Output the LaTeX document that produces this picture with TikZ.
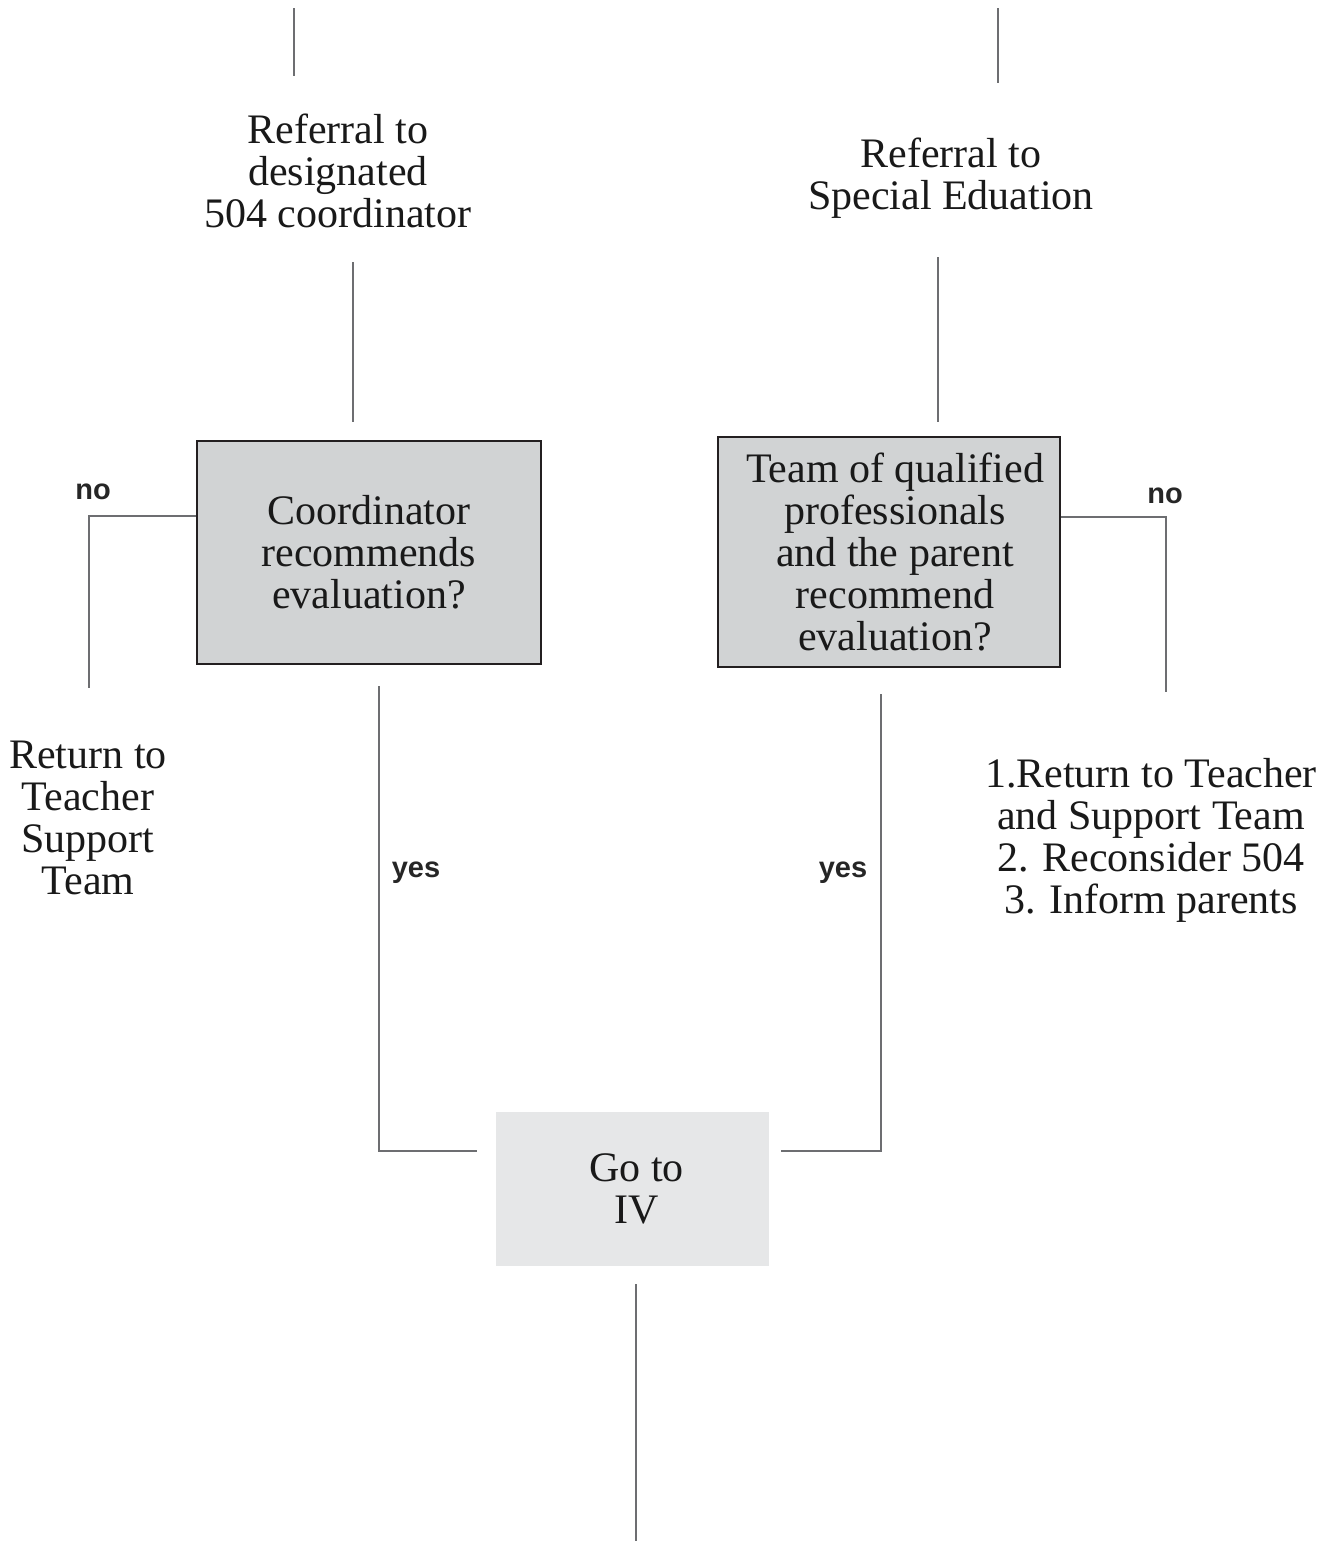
\documentclass[tikz,border=0pt]{standalone}
\usepackage{fontspec}
\setmainfont{Liberation Serif}
\newfontfamily\lblfont{Liberation Sans}
\definecolor{boxgray}{HTML}{D1D3D4}
\definecolor{lightgray2}{HTML}{E6E7E8}
\definecolor{linegray}{HTML}{6D6E71}
\definecolor{bordergray}{HTML}{231F20}
\begin{document}
\begin{tikzpicture}[x=0.5pt,y=-0.5pt,
  txt/.style={align=center,inner sep=0pt,font=\fontsize{21}{21}\selectfont,text=black!90},
  qbox/.style={txt,draw=bordergray,line width=0.9pt,fill=boxgray},
  gobox/.style={txt,fill=lightgray2},
  conn/.style={draw=linegray,line width=0.55pt},
  lbl/.style={inner sep=0pt,font=\lblfont\bfseries\fontsize{14.5}{14.5}\selectfont,text=black!85}]
\useasboundingbox (0,0) rectangle (1329,1543);
% text nodes
\node[txt] (ref504) at (338,171) {Referral to\\designated\\504 coordinator};
\node[txt] (refsped) at (951,178) {Referral to\\Special Eduation};
\node[qbox,minimum width=172pt,minimum height=111.5pt] (b1) at (369,552.5) {Coordinator\\recommends\\evaluation?};
\node[qbox,minimum width=171pt,minimum height=115pt] (b2) at (889,552) {\hspace*{6pt}Team of qualified\\\hspace*{6pt}professionals\\\hspace*{6pt}and the parent\\\hspace*{6pt}recommend\\\hspace*{6pt}evaluation?};
\node[gobox,minimum width=136.5pt,minimum height=77pt] (b3) at (632.5,1189) {\raisebox{-1.5pt}{\hspace*{4pt}Go to}\\\raisebox{-1.5pt}{\hspace*{4pt}IV}};
\node[txt] (retL) at (88,818) {Return to\\Teacher\\Support\\Team};
\node[txt] (retR) at (1151,840) {1.Return to Teacher\\and Support Team\\2. Reconsider 504\\3. Inform parents};
\node[lbl] (noL) at (93,492) {no};
\node[lbl] (noR) at (1165,496) {no};
\node[lbl] (yesL) at (416,873) {yes};
\node[lbl] (yesR) at (843,873) {yes};
% coordinates
\coordinate (tl1) at (294,8); \coordinate (tl2) at (294,76);
\coordinate (tr1) at (998,8); \coordinate (tr2) at (998,83);
\coordinate (l1a) at (353,262); \coordinate (l1b) at (353,422);
\coordinate (r1a) at (938,257); \coordinate (r1b) at (938,422);
\coordinate (nl1) at (89,516); \coordinate (nl2) at (89,688);
\coordinate (nr1) at (1166,517); \coordinate (nr2) at (1166,692);
\coordinate (yl1) at (379,686); \coordinate (yl2) at (379,1151); \coordinate (yl3) at (477,1151);
\coordinate (yr1) at (881,694); \coordinate (yr2) at (881,1151); \coordinate (yr3) at (781,1151);
\coordinate (bt1) at (636,1284); \coordinate (bt2) at (636,1541);
% connectors
\draw[conn] (tl1) -- (tl2);
\draw[conn] (tr1) -- (tr2);
\draw[conn] (l1a) -- (l1b);
\draw[conn] (r1a) -- (r1b);
\draw[conn] (b1.west |- nl1) -- (nl1) -- (nl2);
\draw[conn] (b2.east |- nr1) -- (nr1) -- (nr2);
\draw[conn] (yl1) -- (yl2) -- (yl3);
\draw[conn] (yr1) -- (yr2) -- (yr3);
\draw[conn] (bt1) -- (bt2);
\end{tikzpicture}
\end{document}
